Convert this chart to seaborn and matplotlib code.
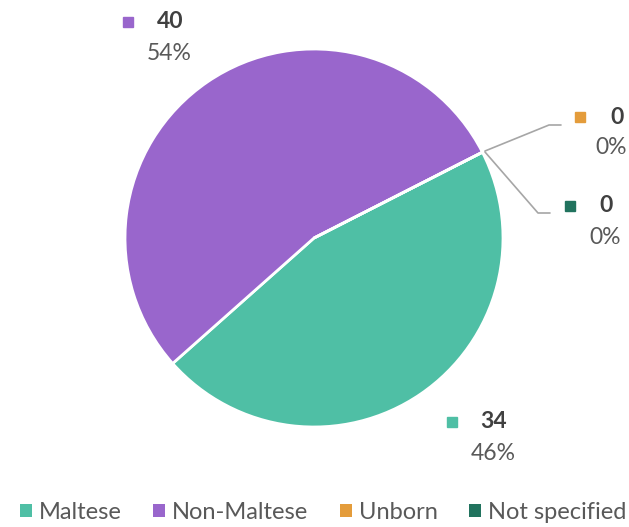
import matplotlib
matplotlib.use('Agg')
import matplotlib.pyplot as plt
from matplotlib.patches import Patch
import seaborn as sns

# data
categories = ["Maltese", "Non-Maltese", "Unborn", "Not specified"]
counts = [34, 40, 0, 0]
percents = ["46%", "54%", "0%", "0%"]
colors = ["#4FBFA5", "#9966CC", "#E49C3B", "#21735E"]

sns.set_theme(style="white")
plt.rcParams['font.family'] = ['Lato', 'DejaVu Sans']
txt_col = "#404040"
sub_col = "#595959"

W, H = 629, 527
fig = plt.figure(figsize=(W / 100, H / 100), dpi=100)
ax = fig.add_axes([0, 0, 1, 1])

# pie drawn in pixel space (y flipped -> mirror the angles)
pal = sns.color_palette(colors)
ax.pie(counts, colors=pal, center=(314, 238), radius=189,
       startangle=-27, counterclock=True, frame=True,
       wedgeprops=dict(edgecolor='white', linewidth=2))
ax.set_xlim(0, W)
ax.set_ylim(H, 0)
ax.set_aspect('equal')
ax.axis('off')

# data labels: (square x, value x, percent x, row y)
label_pos = {
    "Maltese": (452, 494, 493, 422),
    "Non-Maltese": (128, 170, 169, 22),
    "Unborn": (580, 617, 611, 117),
    "Not specified": (570, 606, 605, 206),
}
for cat, n, p, c in zip(categories, counts, percents, colors):
    sx, vx, px, y = label_pos[cat]
    ax.plot(sx, y, marker='s', markersize=7, color=c, linestyle='none')
    ax.text(vx, y, str(n), fontsize=16.5, fontweight='bold', color=txt_col,
            ha='center', va='center')
    ax.text(px, y + 31, p, fontsize=16.5, color=sub_col, ha='center', va='center')

# leader lines for zero slices
ax.plot([485, 549, 561], [151, 125, 125], color='#A6A6A6', lw=1.2)
ax.plot([485, 538, 550], [152, 213, 213], color='#A6A6A6', lw=1.2)

# legend
handles = [Patch(facecolor=c, edgecolor='none', label=cat) for cat, c in zip(categories, colors)]
fig.legend(handles=handles, loc='lower center', ncol=4, frameon=False,
           bbox_to_anchor=(0.514, -0.033), fontsize=17, handlelength=0.5,
           handleheight=0.5, handletextpad=0.3, columnspacing=1.33,
           labelcolor=sub_col)

fig.savefig("out.png", dpi=100)
